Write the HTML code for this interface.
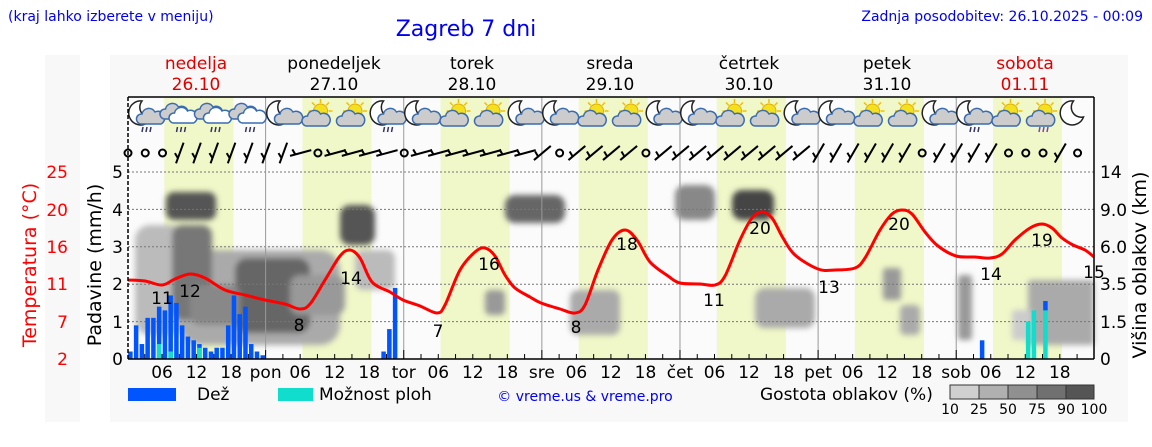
<!DOCTYPE html>
<html><head><meta charset="utf-8"><style>
body{margin:0;width:1152px;height:443px;background:#fff;overflow:hidden;font-family:"DejaVu Sans","Liberation Sans",sans-serif}
</style></head><body>
<svg id="s" width="1152" height="443" xmlns="http://www.w3.org/2000/svg" font-family="DejaVu Sans, Liberation Sans, sans-serif">
<defs>
<filter id="bl" x="-20%" y="-20%" width="140%" height="140%"><feGaussianBlur stdDeviation="3"/></filter>
</defs>
<rect x="45" y="55" width="35" height="367" fill="#f8f8f8"/>
<rect x="110" y="55" width="1018" height="367" fill="#f8f8f8"/>
<rect x="128" y="97" width="966" height="262" fill="#fbfbfb"/>
<g id="bands"></g>
<g id="clouds" filter="url(#bl)">
<rect x="166" y="192" width="50" height="28" rx="8" fill="#555"/>
<rect x="135" y="225" width="50" height="110" rx="15" fill="#bbb"/>
<rect x="180" y="250" width="160" height="95" rx="20" fill="#aaa"/>
<rect x="172" y="225" width="40" height="95" rx="10" fill="#777"/>
<rect x="235" y="258" width="75" height="75" rx="12" fill="#666"/>
<rect x="190" y="285" width="50" height="40" rx="10" fill="#888"/>
<rect x="290" y="275" width="55" height="40" rx="10" fill="#999"/>
<rect x="340" y="205" width="35" height="40" rx="10" fill="#555"/>
<rect x="355" y="250" width="40" height="40" rx="8" fill="#bbb"/>
<rect x="505" y="195" width="60" height="28" rx="10" fill="#666"/>
<rect x="485" y="290" width="20" height="25" rx="5" fill="#999"/>
<rect x="570" y="290" width="50" height="45" rx="8" fill="#aaa"/>
<rect x="675" y="185" width="40" height="35" rx="10" fill="#888"/>
<rect x="732" y="190" width="42" height="30" rx="10" fill="#444"/>
<rect x="755" y="288" width="60" height="40" rx="10" fill="#aaa"/>
<rect x="883" y="268" width="18" height="32" rx="3" fill="#999"/>
<rect x="900" y="305" width="20" height="30" rx="5" fill="#aaa"/>
<rect x="958" y="275" width="14" height="65" rx="3" fill="#999"/>
<rect x="1028" y="280" width="66" height="65" rx="3" fill="#aaa"/>
<rect x="1012" y="310" width="20" height="30" rx="3" fill="#ccc"/>
</g>
<g id="grid"></g>
<g id="bars"></g>
<path id="temp" fill="none" stroke="#f00" stroke-width="3" stroke-linejoin="round"/>
<g id="icons"></g>
<g id="wind" stroke="#000" stroke-width="2" fill="none"></g>
<line x1="128" y1="97" x2="1094" y2="97" stroke="#000" stroke-width="1.5"/>
<line x1="128" y1="97" x2="128" y2="359" stroke="#000" stroke-width="1.5" stroke-dasharray="4,2"/>
<line x1="1094" y1="97" x2="1094" y2="359" stroke="#000" stroke-width="1.5"/>
<line x1="128" y1="359" x2="1094" y2="359" stroke="#000" stroke-width="1.5"/>
<g font-size="14" fill="#0000ee">
<text x="8" y="21">(kraj lahko izberete v meniju)</text>
<text x="1143" y="21" text-anchor="end">Zadnja posodobitev: 26.10.2025 - 00:09</text>
<text x="585" y="401" text-anchor="middle">© vreme.us &amp; vreme.pro</text>
</g>
<text x="466" y="36" font-size="22" fill="#0000ee" text-anchor="middle">Zagreb 7 dni</text>
<g font-size="17" text-anchor="middle">
<text x="196" y="69" fill="#d00">nedelja</text><text x="196" y="90" fill="#d00">26.10</text>
<text x="334" y="69">ponedeljek</text><text x="334" y="90">27.10</text>
<text x="472" y="69">torek</text><text x="472" y="90">28.10</text>
<text x="610" y="69">sreda</text><text x="610" y="90">29.10</text>
<text x="749" y="69">četrtek</text><text x="749" y="90">30.10</text>
<text x="887" y="69">petek</text><text x="887" y="90">31.10</text>
<text x="1025" y="69" fill="#d00">sobota</text><text x="1025" y="90" fill="#d00">01.11</text>
</g>
<g font-size="17" text-anchor="end">
<text x="123" y="178">5</text><text x="123" y="216">4</text><text x="123" y="253">3</text><text x="123" y="290">2</text><text x="123" y="328">1</text><text x="123" y="365">0</text>
</g>
<g font-size="17" text-anchor="end" fill="#f00">
<text x="68" y="178">25</text><text x="68" y="216">20</text><text x="68" y="253">16</text><text x="68" y="290">11</text><text x="68" y="328">7</text><text x="68" y="365">2</text>
</g>
<g font-size="17">
<text x="1100" y="178">14</text><text x="1100" y="216">9.0</text><text x="1100" y="253">6.0</text><text x="1100" y="290">3.5</text><text x="1100" y="328">1.5</text><text x="1100" y="365">0</text>
</g>
<text transform="translate(101,265) rotate(-90)" font-size="19" text-anchor="middle">Padavine (mm/h)</text>
<text transform="translate(36,265) rotate(-90)" font-size="19" text-anchor="middle" fill="#f00">Temperatura (°C)</text>
<text transform="translate(1146,265) rotate(-90)" font-size="19" text-anchor="middle">Višina oblakov (km)</text>
<g id="xt" font-size="17" text-anchor="middle"></g>
<g font-size="17" text-anchor="middle">
<text x="162" y="304">11</text><text x="190" y="297">12</text><text x="299" y="331">8</text><text x="351" y="284">14</text><text x="438" y="337">7</text><text x="489" y="270">16</text><text x="576" y="333">8</text><text x="627" y="250">18</text><text x="714" y="306">11</text><text x="760" y="234">20</text><text x="829" y="293">13</text><text x="899" y="230">20</text><text x="991" y="280">14</text><text x="1042" y="246">19</text><text x="1094" y="278">15</text>
</g>
<rect x="128" y="388" width="48" height="13" fill="#0055ff"/>
<text x="197" y="400" font-size="17">Dež</text>
<rect x="278" y="388" width="35" height="13" fill="#11ddcc"/>
<text x="319" y="400" font-size="17">Možnost ploh</text>
<text x="760" y="400" font-size="17">Gostota oblakov (%)</text>
<g stroke="#333" stroke-width="1">
<rect x="950" y="385" width="29" height="14" fill="#d0d0d0"/><rect x="979" y="385" width="29" height="14" fill="#b0b0b0"/><rect x="1008" y="385" width="29" height="14" fill="#909090"/><rect x="1037" y="385" width="29" height="14" fill="#707070"/><rect x="1066" y="385" width="28" height="14" fill="#555"/>
</g>
<g font-size="14" text-anchor="middle">
<text x="950" y="414">10</text><text x="979" y="414">25</text><text x="1008" y="414">50</text><text x="1037" y="414">75</text><text x="1066" y="414">90</text><text x="1094" y="414">100</text>
</g>
</svg>
<script>
var NS="http://www.w3.org/2000/svg";
function X(h){return 127.5+h*5.755;}
function el(p,t,a){var e=document.createElementNS(NS,t);for(var k in a)e.setAttribute(k,a[k]);document.getElementById(p).appendChild(e);return e;}
for(var d=0;d<7;d++){el("bands","rect",{x:X(d*24+6.4),y:97,width:X(18.4)-X(6.4),height:262,fill:"#f0f7c8"});}
[172,209.4,246.8,284.2,321.6].forEach(function(y){el("grid","line",{x1:128,x2:1094,y1:y,y2:y,stroke:"#777","stroke-dasharray":"2,2","stroke-width":1});});
for(var d=1;d<7;d++)el("grid","line",{x1:X(d*24),x2:X(d*24),y1:97,y2:359,stroke:"#999","stroke-width":1});
for(var h=3;h<168;h+=3){el("grid","line",{x1:X(h),x2:X(h),y1:359,y2:(h%24==0?350:354),stroke:"#000","stroke-width":1});}
var names=["pon","tor","sre","čet","pet","sob"];
for(var d=0;d<7;d++){[6,12,18].forEach(function(h){var t=el("xt","text",{x:X(d*24+h),y:378});t.textContent=(h<10?"0":"")+h;});if(d<6){var t=el("xt","text",{x:X((d+1)*24),y:378});t.textContent=names[d];}}
function bar(h,v,c,base){base=base||0;var w=4.5;el("bars","rect",{x:X(h)-w/2,y:359-37.4*(v+base),width:w,height:37.4*v,fill:c});}
var r=[0.2,0.9,0.4,1.1,1.1,1.4,1.3,1.7,1.5,0.9,0.6,0.5,0.4,0.3,0.2,0.3,0.3,0.9,1.7,1.2,1.4,0.4,0.2,0.1];
r.forEach(function(v,i){bar(i+0.5,v,"#0055ff");});
bar(5.5,0.4,"#11ddcc");bar(7.5,0.2,"#11ddcc");bar(12.5,0.3,"#11ddcc");
bar(44.5,0.2,"#0055ff");bar(45.5,0.8,"#0055ff");bar(46.5,1.9,"#0055ff");
bar(148.5,0.5,"#0055ff");
bar(156.5,1.0,"#11ddcc");bar(157.5,1.3,"#11ddcc");bar(159.5,1.3,"#11ddcc");bar(159.5,0.25,"#0055ff",1.3);
var PX=[[128,280],[145,281],[162,285],[175,279],[190,274],[205,278],[225,290],[245,295],[265,300],[285,304],[300,309],[310,304],[325,280],[340,256],[350,250],[360,258],[372,282],[390,292],[403,300],[420,306],[437,313],[445,305],[460,270],[475,252],[485,248],[495,256],[505,275],[515,288],[530,297],[541,303],[560,309],[575,313],[585,305],[598,270],[612,240],[625,230],[637,240],[650,262],[668,276],[680,283],[700,284],[715,285],[725,276],[740,240],[752,218],[762,212],[772,218],[783,238],[795,255],[818,269],[835,270],[855,268],[865,258],[880,230],[892,214],[902,210],[912,214],[925,232],[938,246],[956,256],[975,257],[990,258],[1002,254],[1015,240],[1030,228],[1042,224],[1052,228],[1062,238],[1073,245],[1085,250],[1094,257]];
function smooth(p){var d="M"+p[0][0]+","+p[0][1];for(var i=1;i<p.length;i++){var p0=p[i-2]||p[i-1],p1=p[i-1],p2=p[i],p3=p[i+1]||p2;var c1x=p1[0]+(p2[0]-p0[0])/6,c1y=p1[1]+(p2[1]-p0[1])/6,c2x=p2[0]-(p3[0]-p1[0])/6,c2y=p2[1]-(p3[1]-p1[1])/6;d+=" C"+c1x.toFixed(1)+","+c1y.toFixed(1)+" "+c2x.toFixed(1)+","+c2y.toFixed(1)+" "+p2[0]+","+p2[1];}return d;}
document.getElementById("temp").setAttribute("d",smooth(PX));
var types="mr,cr,cr,cr,m,s,s,mr,m,s,s,m,m,s,s,m,m,s,s,m,m,s,s,m,mr,s,st,mm".split(",");
function moon(g,x,y){el(g,"path",{d:"M"+(x+2)+","+(y-12)+" a12,12 0 1,0 10,16 a10,10 0 0,1 -10,-16z",fill:"#fff",stroke:"#222","stroke-width":1.5});}
function cloud(g,x,y,c){el(g,"path",{d:"M"+(x-10)+","+(y+6)+" a5,5 0 0,1 1,-10 a7,7 0 0,1 13,-2 a6,6 0 0,1 6,12 z",fill:c,stroke:"#3a6cb0","stroke-width":1.5});}
function sun(g,x,y){for(var a=0;a<8;a++){var t=a*Math.PI/4;el(g,"line",{x1:x+8*Math.cos(t),y1:y+8*Math.sin(t),x2:x+12*Math.cos(t),y2:y+12*Math.sin(t),stroke:"#f0c000","stroke-width":1.5});}el(g,"circle",{cx:x,cy:y,r:7,fill:"#f5e020",stroke:"#e0b000"});}
types.forEach(function(t,i){var x=146+34.5*i,y=113;
 if(t=="m"||t=="mr"||t=="mm"){moon("icons",x-6,y);if(t!="mm")cloud("icons",x+5,y+5,"#ccc");}
 if(t=="cr"){cloud("icons",x-6,y,"#ccc");cloud("icons",x+3,y+4,"#fff");}
 if(t=="s"||t=="st"){sun("icons",x+2,y-2);cloud("icons",x-2,y+7,"#ccc");}
 if(t=="mr"||t=="cr"||t=="st"){for(var k=0;k<3;k++)el("icons","line",{x1:x-3+k*4,y1:y+14,x2:x-4+k*4,y2:y+19,stroke:t=="st"?"#8040c0":"#336","stroke-width":1.5});}
});
for(var i=0;i<56;i++){var x=X(i*3)+0.5,y=153;
 var calm=[0,1,2,11,16,25,30,46,51,52,53,55].indexOf(i)>=0;
 if(calm){el("wind","circle",{cx:x,cy:y,r:3.5});}
 else{var a=(i<10?-70:i<24?-15:i<40?-40:-60)*Math.PI/180;var L=11;el("wind","line",{x1:x-L*Math.cos(a),y1:y-L*Math.sin(a),x2:x+L*Math.cos(a),y2:y+L*Math.sin(a)});el("wind","line",{x1:x-L*Math.cos(a)*0.5,y1:y-L*Math.sin(a)*0.5,x2:x-L*Math.cos(a)*0.5-3,y2:y-L*Math.sin(a)*0.5-5});}
}
</script>
</body></html>
